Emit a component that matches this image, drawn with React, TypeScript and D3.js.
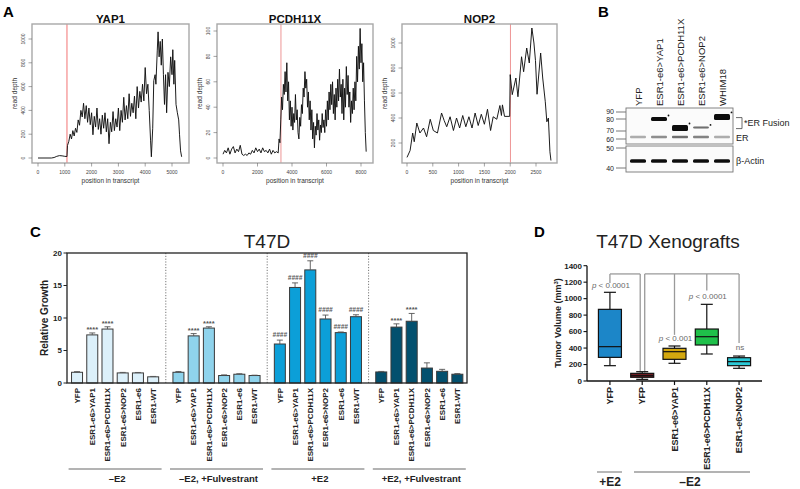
import React from 'react';
import * as d3 from 'd3';

const FONT = "'Liberation Sans', Arial, Helvetica, sans-serif";

// ---------------- Panel A data (read depth along transcript) ----------------
const yap1Pos = [0, 500, 600, 700, 800, 900, 1000, 1080, 1100, 1150, 1200, 1250, 1300, 1350, 1400, 1450, 1500, 1550, 1600, 1650, 1700, 1750, 1800, 1850, 1900, 1950, 2000, 2050, 2100, 2150, 2200, 2250, 2300, 2350, 2400, 2450, 2500, 2550, 2600, 2650, 2700, 2750, 2800, 2850, 2900, 2950, 3000, 3050, 3100, 3150, 3200, 3250, 3300, 3350, 3400, 3450, 3500, 3550, 3600, 3650, 3700, 3750, 3800, 3850, 3900, 3950, 4000, 4050, 4100, 4150, 4200, 4230, 4280, 4320, 4370, 4400, 4450, 4480, 4520, 4560, 4600, 4640, 4680, 4720, 4760, 4800, 4850, 4900, 4950, 5000, 5030, 5070, 5100, 5150, 5200, 5250, 5280, 5320, 5360];
const yap1Depth = [0, 0, 4, 14, 20, 18, 14, 12, 105, 140, 200, 160, 230, 185, 250, 215, 320, 275, 400, 345, 460, 330, 440, 300, 420, 280, 380, 195, 350, 260, 420, 240, 330, 200, 360, 250, 380, 220, 330, 120, 300, 220, 390, 230, 330, 260, 420, 230, 400, 300, 510, 320, 440, 330, 540, 350, 460, 380, 520, 330, 600, 420, 560, 470, 620, 480, 760, 540, 620, 400, 150, 10, 250, 650, 700, 620, 900, 1060, 850, 980, 780, 1000, 700, 450, 700, 380, 720, 600, 850, 700, 910, 620, 820, 450, 380, 320, 200, 60, 10];

const pcdhPos = [0, 100, 200, 300, 400, 500, 600, 700, 800, 900, 1000, 1100, 1200, 1300, 1400, 1500, 1600, 1700, 1800, 1900, 2000, 2100, 2200, 2300, 2400, 2500, 2600, 2700, 2800, 2900, 3000, 3100, 3200, 3250, 3300, 3350, 3400, 3450, 3500, 3550, 3600, 3650, 3700, 3750, 3800, 3850, 3900, 3950, 4000, 4050, 4100, 4150, 4200, 4250, 4300, 4350, 4400, 4450, 4500, 4550, 4600, 4650, 4700, 4750, 4800, 4850, 4900, 4950, 5000, 5050, 5100, 5150, 5200, 5250, 5300, 5350, 5400, 5450, 5500, 5550, 5600, 5650, 5700, 5750, 5800, 5850, 5900, 5950, 6000, 6050, 6100, 6150, 6200, 6250, 6300, 6350, 6400, 6450, 6500, 6550, 6600, 6650, 6700, 6750, 6800, 6850, 6900, 6950, 7000, 7050, 7100, 7150, 7200, 7250, 7300, 7350, 7400, 7450, 7500, 7550, 7600, 7650, 7700, 7750, 7800, 7850, 7900, 7950, 8000, 8050, 8100, 8150, 8200, 8250, 8300];
const pcdhDepth = [3, 6, 4, 8, 3, 7, 9, 4, 7, 5, 10, 3, 2, 3, 2, 4, 3, 6, 4, 8, 5, 7, 4, 8, 5, 6, 4, 7, 3, 6, 4, 5, 4, 15, 12, 30, 48, 38, 58, 50, 68, 52, 75, 45, 60, 30, 45, 25, 40, 22, 35, 28, 50, 30, 38, 20, 15, 32, 25, 42, 35, 55, 48, 68, 55, 62, 40, 52, 30, 45, 22, 38, 15, 28, 8, 25, 18, 35, 22, 30, 14, 26, 20, 35, 24, 30, 20, 38, 25, 45, 30, 52, 38, 58, 42, 60, 35, 50, 30, 55, 40, 62, 45, 70, 48, 58, 35, 62, 30, 55, 40, 72, 50, 65, 40, 52, 28, 45, 35, 55, 38, 60, 45, 80, 60, 88, 70, 102, 75, 90, 60, 75, 45, 20, 5];

const nop2Pos = [0, 60, 110, 140, 190, 250, 320, 380, 450, 510, 590, 670, 720, 770, 835, 900, 960, 1020, 1080, 1140, 1200, 1260, 1320, 1380, 1440, 1500, 1560, 1620, 1670, 1740, 1800, 1830, 1850, 1890, 1990, 2000, 2040, 2110, 2150, 2220, 2260, 2320, 2370, 2420, 2460, 2490, 2520, 2590, 2630, 2680, 2710, 2740, 2770, 2790];
const nop2Depth = [85, 140, 280, 210, 360, 280, 320, 250, 390, 300, 280, 440, 380, 330, 410, 300, 400, 320, 420, 330, 410, 320, 440, 340, 430, 350, 470, 300, 410, 390, 500, 420, 505, 413, 413, 747, 587, 720, 570, 890, 770, 960, 840, 1120, 1000, 860, 590, 920, 720, 530, 370, 400, 130, 60];

const yap1XTicks = [0, 1000, 2000, 3000, 4000, 5000];
const yap1YTicks = [0, 200, 400, 600, 800, 1000];
const pcdhXTicks = [0, 2000, 4000, 6000, 8000];
const pcdhYTicks = [0, 20, 40, 60, 80, 100];
const nop2XTicks = [0, 500, 1000, 1500, 2000, 2500];
const nop2YTicks = [200, 400, 600, 800, 1000];
const junctions = [1080, 3360, 2005];

// ---------------- Panel B data (western blot) ----------------
const blotLanes = ['YFP', 'ESR1-e6>YAP1', 'ESR1-e6>PCDH11X', 'ESR1-e6>NOP2', 'WHIM18'];
const markerKDa = [90, 80, 70, 60, 50, 40];
const markerNudge = [-0.8, 0.6, -0.4, 0.5, 0, 0];
const fusionKDa = [0, 80, 72.5, 73, 83];
const fusionIntensity = [0, 1, 1, 0.6, 1];
const fusionThickness = [0, 4, 6, 2, 6];
const erIntensity = [0.35, 0.5, 0.65, 0.55, 0.35];
const erKDa = 62.5;
const actinKDa = 43.5;

// ---------------- Panel C data (T47D relative growth) ----------------
const cGroups = ['\u2013E2', '\u2013E2, +Fulvestrant', '+E2', '+E2, +Fulvestrant'];
const cConstructs = ['YFP', 'ESR1-e6>YAP1', 'ESR1-e6>PCDH11X', 'ESR1-e6>NOP2', 'ESR1-e6', 'ESR1-WT'];
const cMeansMinusE2 = [1.65, 7.4, 8.3, 1.55, 1.55, 0.95];
const cMeansMinusE2Fulv = [1.65, 7.25, 8.45, 1.15, 1.35, 1.15];
const cMeansPlusE2 = [6.0, 14.7, 17.4, 9.85, 7.75, 10.2];
const cMeansPlusE2Fulv = [1.7, 8.6, 9.5, 2.3, 1.8, 1.35];
const cErrMinusE2 = [0.1, 0.3, 0.35, 0.08, 0.07, 0.06];
const cErrMinusE2Fulv = [0.12, 0.35, 0.2, 0.1, 0.08, 0.05];
const cErrPlusE2 = [0.6, 0.7, 1.4, 0.6, 0.1, 0.3];
const cErrPlusE2Fulv = [0.08, 0.5, 1.2, 0.8, 0.3, 0.1];
const cMarksMinusE2 = ['', '****', '****', '', '', ''];
const cMarksPlusE2 = ['####', '####', '####', '####', '####', '####'];
const cColors = ['#dcf0fa', '#8fd3ec', '#0c9fd8', '#03506e'];
const cYTicks = [0, 5, 10, 15, 20];

// ---------------- Panel D data (xenograft tumor volume) ----------------
const dLabels = ['YFP', 'YFP', 'ESR1-e6>YAP1', 'ESR1-e6>PCDH11X', 'ESR1-e6>NOP2'];
const dMin = [186, 20, 215, 328, 154];
const dQ1 = [287, 45, 263, 437, 186];
const dMedian = [417, 65, 356, 538, 235];
const dQ3 = [870, 93, 397, 631, 283];
const dMax = [1077, 113, 425, 931, 303];
const dColors = ['#1c86c8', '#6e1b22', '#d4a80f', '#1fc04a', '#2ccad8'];
const dYTicks = [0, 200, 400, 600, 800, 1000, 1200, 1400];
const dBracketTop = 1300;
const dDrop = [1190, 100, 560, 1100, 460];
const dPLabels = ['p < 0.0001', '', 'p < 0.001', 'p < 0.0001', 'ns'];
const dPLabelAt = [1130, 0, 490, 1000, 375];

// ------------------------------------------------------------------------------

type TraceProps = {
  id: string; title: string; pos: number[]; depth: number[]; junction: number;
  fx0: number; fx1: number; xDomain: [number, number]; xRange: [number, number];
  yDomain: [number, number]; yRange: [number, number]; xTicks: number[]; yTicks: number[];
  jColor: string; jWidth: number;
};

function Trace(p: TraceProps) {
  const fy0 = 24, fy1 = 163;
  const x = d3.scaleLinear().domain(p.xDomain).range(p.xRange);
  const y = d3.scaleLinear().domain(p.yDomain).range(p.yRange);
  const pts = p.pos.map((v, i) => [v, p.depth[i]] as [number, number]);
  const line = d3.line<[number, number]>().x(d => x(d[0])).y(d => y(d[1]));
  const cx = (p.fx0 + p.fx1) / 2;
  return (
    <g>
      <clipPath id={p.id}><rect x={p.fx0} y={fy0} width={p.fx1 - p.fx0} height={fy1 - fy0} /></clipPath>
      <line x1={x(p.junction)} x2={x(p.junction)} y1={fy0} y2={fy1} stroke={p.jColor} strokeWidth={p.jWidth} />
      <path d={line(pts) || ''} fill="none" stroke="#111" strokeWidth={0.95} strokeLinejoin="round" clipPath={`url(#${p.id})`} />
      <rect x={p.fx0} y={fy0} width={p.fx1 - p.fx0} height={fy1 - fy0} fill="none" stroke="#a8a8a8" strokeWidth={1.4} />
      <text x={cx} y={23} textAnchor="middle" fontSize={11.5} fontWeight="bold" fill="#111">{p.title}</text>
      {p.yTicks.map(t => (
        <g key={'y' + t}>
          <line x1={p.fx0 - 3.5} x2={p.fx0} y1={y(t)} y2={y(t)} stroke="#666" strokeWidth={0.6} />
          <text transform={`translate(${p.fx0 - 7},${y(t)}) rotate(-90)`} textAnchor="middle" fontSize={5} fill="#444">{t}</text>
        </g>
      ))}
      {p.xTicks.map(t => (
        <g key={'x' + t}>
          <line x1={x(t)} x2={x(t)} y1={fy1} y2={fy1 + 3.5} stroke="#666" strokeWidth={0.6} />
          <text x={x(t)} y={174} textAnchor="middle" fontSize={5} fill="#444">{t}</text>
        </g>
      ))}
      <text x={cx} y={183} textAnchor="middle" fontSize={6.5} fill="#333">position in transcript</text>
      <text transform={`translate(${p.fx0 - 15},${(fy0 + fy1) / 2}) rotate(-90)`} textAnchor="middle" fontSize={6.5} fill="#333">read depth</text>
    </g>
  );
}

function PanelA() {
  return (
    <g>
      <text x={3} y={17} fontSize={15} fontWeight="bold">A</text>
      <Trace id="c1" title="YAP1" pos={yap1Pos} depth={yap1Depth} junction={junctions[0]}
        fx0={32} fx1={189} xDomain={[0, 5000]} xRange={[38, 172]} yDomain={[0, 1000]} yRange={[158, 39]}
        xTicks={yap1XTicks} yTicks={yap1YTicks} jColor="#f7a8a8" jWidth={1.6} />
      <Trace id="c2" title="PCDH11X" pos={pcdhPos} depth={pcdhDepth} junction={junctions[1]}
        fx0={217} fx1={373} xDomain={[0, 8000]} xRange={[223, 361]} yDomain={[0, 100]} yRange={[158, 31]}
        xTicks={pcdhXTicks} yTicks={pcdhYTicks} jColor="#e87a7a" jWidth={0.8} />
      <Trace id="c3" title="NOP2" pos={nop2Pos} depth={nop2Depth} junction={junctions[2]}
        fx0={402} fx1={557} xDomain={[0, 2500]} xRange={[407, 536]} yDomain={[200, 1000]} yRange={[143, 43]}
        xTicks={nop2XTicks} yTicks={nop2YTicks} jColor="#e87a7a" jWidth={0.8} />
    </g>
  );
}

function PanelB() {
  const ky = d3.scaleLinear().domain([90, 80, 70, 60, 50, 40]).range([112, 119, 131, 139, 148, 168]);
  const lx = d3.scalePoint<string>().domain(blotLanes).range([638, 722]);
  const bw = 16;
  return (
    <g>
      <defs>
        <filter id="blur" x="-20%" y="-50%" width="140%" height="200%"><feGaussianBlur stdDeviation="0.7" /></filter>
      </defs>
      <text x={598} y={17} fontSize={15} fontWeight="bold">B</text>
      {blotLanes.map(l => (
        <text key={l} transform={`translate(${(lx(l) || 0) + 3.5},106) rotate(-90)`} fontSize={9.5} fill="#222">{l}</text>
      ))}
      {markerKDa.map((k, i) => (
        <g key={k}>
          <text x={614} y={ky(k) + 2.5 + markerNudge[i]} textAnchor="end" fontSize={7} fill="#222">{k}</text>
          <line x1={616} x2={626} y1={ky(k)} y2={ky(k)} stroke="#555" strokeWidth={0.8} />
        </g>
      ))}
      <rect x={626} y={108} width={107} height={36} fill="#fbfbfb" stroke="#777" strokeWidth={0.9} />
      <rect x={626} y={146} width={107} height={26} fill="#fbfbfb" stroke="#777" strokeWidth={0.9} />
      <g filter="url(#blur)">
        {blotLanes.map((l, i) => {
          const cx = lx(l) || 0;
          return (
            <g key={l}>
              <rect x={cx - bw / 2} y={ky(erKDa) - 1.2} width={bw} height={2.4} rx={1} fill="#222" opacity={erIntensity[i]} />
              {fusionIntensity[i] > 0 && (
                <rect x={cx - bw / 2} y={ky(fusionKDa[i]) - fusionThickness[i] / 2} width={bw} height={fusionThickness[i]} rx={1.5} fill="#111" opacity={fusionIntensity[i]} />
              )}
              <rect x={cx - bw / 2} y={ky(actinKDa) - 1.8} width={bw} height={3.6} rx={1.5} fill="#111" />
            </g>
          );
        })}
      </g>
      {blotLanes.map((l, i) => fusionIntensity[i] > 0 ? (
        <circle key={l} cx={(lx(l) || 0) + bw / 2 + 1.5} cy={ky(fusionKDa[i]) - fusionThickness[i] / 2 - 1.5} r={0.9} fill="#111" />
      ) : null)}
      <path d={`M736,${ky(82)} H742 V${ky(72)} H736`} fill="none" stroke="#444" strokeWidth={0.8} />
      <text x={744} y={126} fontSize={9} fill="#222">*ER Fusion</text>
      <text x={736} y={ky(erKDa) + 3.5} fontSize={9} fill="#222">ER</text>
      <text x={736} y={ky(actinKDa) + 3} fontSize={9} fill="#222">β-Actin</text>
    </g>
  );
}

function PanelC() {
  const y = d3.scaleLinear().domain([0, 20]).range([383, 253]);
  const gx = d3.scaleBand<string>().domain(cGroups).range([64.4, 470]);
  const ix = d3.scalePoint<string>().domain(cConstructs).range([0, gx.bandwidth()]).padding(0.83);
  const means = [cMeansMinusE2, cMeansMinusE2Fulv, cMeansPlusE2, cMeansPlusE2Fulv];
  const errs = [cErrMinusE2, cErrMinusE2Fulv, cErrPlusE2, cErrPlusE2Fulv];
  const marks = [cMarksMinusE2, cMarksMinusE2, cMarksPlusE2, cMarksMinusE2];
  const bw = 11;
  return (
    <g>
      <text x={30} y={237} fontSize={15} fontWeight="bold">C</text>
      <text x={267} y={248} textAnchor="middle" fontSize={19} fill="#222">T47D</text>
      {cGroups.slice(1).map(g => (
        <line key={g} x1={gx(g)} x2={gx(g)} y1={253} y2={383} stroke="#555" strokeWidth={0.8} strokeDasharray="1.2,1.6" />
      ))}
      {cGroups.map((g, gi) => {
        const g0 = gx(g) || 0;
        const center = g0 + gx.bandwidth() / 2;
        return (
          <g key={g}>
            {cConstructs.map((c, ci) => {
              const cx = g0 + (ix(c) || 0);
              const m = means[gi][ci];
              const e = errs[gi][ci];
              const mk = marks[gi][ci];
              const hash = mk.startsWith('#');
              return (
                <g key={c}>
                  <rect x={cx - bw / 2} y={y(m)} width={bw} height={y(0) - y(m)} fill={cColors[gi]} stroke="#3a3a3a" strokeWidth={1} />
                  <line x1={cx} x2={cx} y1={y(m)} y2={y(m + e)} stroke="#555" strokeWidth={0.9} />
                  <line x1={cx - 3} x2={cx + 3} y1={y(m + e)} y2={y(m + e)} stroke="#555" strokeWidth={0.9} />
                  {mk && (
                    <text x={cx} y={y(m + e) - (hash ? 3 : 1)} textAnchor="middle" fontSize={hash ? 6.5 : 7.5} fontWeight="bold" fontStyle={hash ? 'italic' : 'normal'} fill="#555">{mk}</text>
                  )}
                  <text transform={`translate(${cx},388) rotate(-90)`} textAnchor="end" dy="0.35em" fontSize={8} fontWeight="bold" fill="#222">{c}</text>
                </g>
              );
            })}
            <line x1={center - 46.5} x2={center + 46.5} y1={469} y2={469} stroke="#9a9a9a" strokeWidth={1.5} />
            <text x={center + 2} y={482} textAnchor="middle" fontSize={9.5} fontWeight="bold" fill="#222">{g}</text>
          </g>
        );
      })}
      <rect x={67} y={253} width={400} height={130} fill="none" stroke="#222" strokeWidth={1.3} />
      {cYTicks.map(t => (
        <g key={t}>
          <line x1={63.5} x2={67} y1={y(t)} y2={y(t)} stroke="#222" strokeWidth={1} />
          <text x={62} y={y(t) + 2.8} textAnchor="end" fontSize={8} fontWeight="bold" fill="#222">{t}</text>
        </g>
      ))}
      <text transform="translate(48,318) rotate(-90)" textAnchor="middle" fontSize={10} fontWeight="bold" fill="#222">Relative Growth</text>
    </g>
  );
}

function PanelD() {
  const y = d3.scaleLinear().domain([0, 1400]).range([381, 265.7]);
  const idx = dLabels.map((_, i) => String(i));
  const x = d3.scalePoint<string>().domain(idx).range([587, 762]).padding(0.71);
  const bw = 23;
  const xi = (i: number) => x(String(i)) || 0;
  const gray = '#9a9a9a';
  return (
    <g>
      <text x={534} y={237} fontSize={15} fontWeight="bold">D</text>
      <text x={668} y={248} textAnchor="middle" fontSize={19} fill="#222">T47D Xenografts</text>
      <line x1={xi(0)} x2={xi(1) - 2} y1={y(dBracketTop)} y2={y(dBracketTop)} stroke={gray} strokeWidth={1.3} />
      <line x1={xi(1) + 2.5} x2={xi(4)} y1={y(dBracketTop)} y2={y(dBracketTop)} stroke={gray} strokeWidth={1.3} />
      <line x1={xi(1) - 2} x2={xi(1) - 2} y1={y(dBracketTop)} y2={y(dDrop[1])} stroke={gray} strokeWidth={1.3} />
      <line x1={xi(1) + 2.5} x2={xi(1) + 2.5} y1={y(dBracketTop)} y2={y(dDrop[1])} stroke={gray} strokeWidth={1.3} />
      {[0, 2, 3, 4].map(i => (
        <line key={i} x1={xi(i)} x2={xi(i)} y1={y(dBracketTop)} y2={y(dDrop[i])} stroke={gray} strokeWidth={1.3} />
      ))}
      {dPLabels.map((l, i) => l ? (
        <text key={i} x={xi(i) + 1} y={y(dPLabelAt[i])} textAnchor="middle" fontSize={8} fill="#6a6a6a">
          {l.startsWith('p') ? (<><tspan fontStyle="italic">p</tspan>{l.slice(1)}</>) : l}
        </text>
      ) : null)}
      {dLabels.map((l, i) => {
        const cx = xi(i);
        return (
          <g key={i}>
            <line x1={cx} x2={cx} y1={y(dMax[i])} y2={y(dQ3[i])} stroke="#111" strokeWidth={1.2} />
            <line x1={cx} x2={cx} y1={y(dQ1[i])} y2={y(dMin[i])} stroke="#111" strokeWidth={1.2} />
            <line x1={cx - 6} x2={cx + 6} y1={y(dMax[i])} y2={y(dMax[i])} stroke="#111" strokeWidth={1.2} />
            <line x1={cx - 6} x2={cx + 6} y1={y(dMin[i])} y2={y(dMin[i])} stroke="#111" strokeWidth={1.2} />
            <rect x={cx - bw / 2} y={y(dQ3[i])} width={bw} height={y(dQ1[i]) - y(dQ3[i])} fill={dColors[i]} stroke="#111" strokeWidth={1.2} />
            <line x1={cx - bw / 2} x2={cx + bw / 2} y1={y(dMedian[i])} y2={y(dMedian[i])} stroke="#111" strokeWidth={1.2} />
            <line x1={cx} x2={cx} y1={381} y2={385} stroke="#111" strokeWidth={1.2} />
            <text transform={`translate(${cx},387) rotate(-90)`} textAnchor="end" dy="0.35em" fontSize={9} fontWeight="bold" fill="#222">{l}</text>
          </g>
        );
      })}
      <line x1={587} x2={587} y1={265.7} y2={381} stroke="#111" strokeWidth={1.3} />
      <line x1={587} x2={762} y1={381} y2={381} stroke="#111" strokeWidth={1.3} />
      {dYTicks.map(t => (
        <g key={t}>
          <line x1={583.5} x2={587} y1={y(t)} y2={y(t)} stroke="#111" strokeWidth={1.1} />
          <text x={582} y={y(t) + 2.8} textAnchor="end" fontSize={8} fontWeight="bold" fill="#222">{t}</text>
        </g>
      ))}
      <text transform="translate(561,323) rotate(-90)" textAnchor="middle" fontSize={9} fontWeight="bold" fill="#222">
        Tumor Volume (mm<tspan fontSize={6} dy={-3.5}>3</tspan><tspan dy={3.5}>)</tspan>
      </text>
      <line x1={597} x2={622} y1={472} y2={472} stroke={gray} strokeWidth={1.4} />
      <line x1={634} x2={750} y1={472} y2={472} stroke={gray} strokeWidth={1.4} />
      <text x={610} y={486} textAnchor="middle" fontSize={12} fontWeight="bold" fill="#222">+E2</text>
      <text x={690} y={486} textAnchor="middle" fontSize={12} fontWeight="bold" fill="#222">{'\u2013E2'}</text>
    </g>
  );
}

export default function App() {
  return (
    <svg width={800} height={489} viewBox="0 0 800 489"
      style={{ position: 'absolute', left: 0, top: 0, background: '#fff', fontFamily: FONT }}>
      <rect width={800} height={489} fill="#fff" />
      <PanelA />
      <PanelB />
      <PanelC />
      <PanelD />
    </svg>
  );
}
